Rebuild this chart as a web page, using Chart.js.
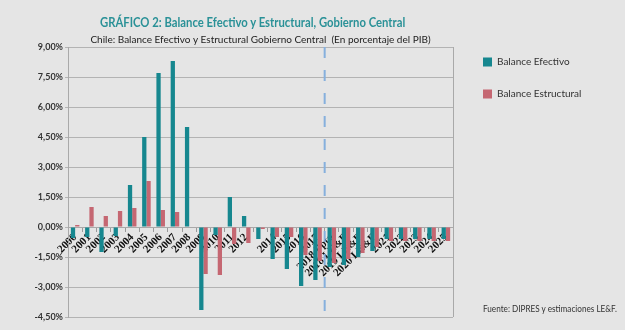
<!DOCTYPE html>
<html><head><meta charset="utf-8">
<script src="https://cdn.jsdelivr.net/npm/chart.js@4.4.1/dist/chart.umd.min.js"></script>
<style>
html,body{margin:0;padding:0;background:#e5e5e5;}
#wrap{position:relative;width:625px;height:330px;overflow:hidden;background:#e5e5e5;}
#c{position:absolute;left:0;top:0;}
#title{position:absolute;left:100px;top:13px;font-weight:bold;font-size:14px;font-family:Lato,sans-serif;color:#2a9197;white-space:nowrap;line-height:18px;transform-origin:0 50%;}
#src{position:absolute;left:483px;top:302px;font-size:10px;font-family:Lato,sans-serif;color:#333;white-space:nowrap;line-height:12px;transform-origin:0 50%;}
</style></head>
<body><div id="wrap"><canvas id="c" width="625" height="330"></canvas>
<div id="title">GRÁFICO 2: Balance Efectivo y Estructural, Gobierno Central</div>
<div id="src">Fuente: DIPRES y estimaciones LE&amp;F.</div></div>
<script>
const categories = ['2000','2001','2002','2003','2004','2005','2006','2007','2008','2009','2010','2011','2012','2013','2014','2015','2016','2017','2018 Ppto','2018 LE&F','2019 LE&F','2020 LE&F','2021','2022','2023','2024','2025'];
const tickLabels = ['2000','2001','2002','2003','2004','2005','2006','2007','2008','2009','2010','2011','2012','','2014','2015','2016','2017','2018 Ppto','2018 LE&F','2019 LE&F','2020 LE&F','2021','2022','2023','2024','2025'];
const balanceEfectivo = [-0.55,-0.5,-1.25,-0.45,2.1,4.5,7.7,8.3,5.0,-4.15,-0.4,1.5,0.55,-0.6,-1.6,-2.1,-2.95,-2.65,-2.0,-1.9,-1.5,-1.2,-0.6,-0.6,-0.6,-0.6,-0.6];
const balanceEstructural = [0.1,1.0,0.55,0.8,0.95,2.3,0.85,0.75,0,-2.35,-2.4,-0.85,-0.8,-0.1,-0.5,-0.5,-1.4,-1.7,-1.8,-1.6,-1.3,-1.0,-0.7,-0.7,-0.7,-0.7,-0.7];
const seriesNames = ['Balance Efectivo','Balance Estructural'];
const yMin = -4.5, yMax = 9, yStep = 1.5;
const projectionStart = '2018 Ppto';

// fit HTML titles to the reference widths (condensed look)
function fitWidth(id, w) { const el = document.getElementById(id); el.style.transform = 'scaleX(' + (w / el.offsetWidth) + ')'; }
fitWidth('title', 305);
fitWidth('src', 134);

const FONT = "Lato, sans-serif";
Chart.defaults.font.family = FONT;

const LEG_FONT = 10, LEG_PAD = 22, LEG_BOX = 9;
const mctx = document.createElement('canvas').getContext('2d');
mctx.font = LEG_FONT + 'px ' + FONT;
const legTextW = Math.max(...seriesNames.map(t => mctx.measureText(t).width));
const legendW = 10 + LEG_PAD + LEG_BOX + LEG_FONT / 2 + legTextW;
const padRight = Math.max(0, 625 - 461 - legendW);

const framePlugin = {
  id: 'frame',
  beforeDatasetsDraw(chart) {
    const {ctx, chartArea: a, scales} = chart;
    ctx.save();
    ctx.strokeStyle = '#a9a9a9';
    ctx.lineWidth = 1;
    ctx.beginPath();
    const xr = Math.round(a.right) + 0.5;
    ctx.moveTo(xr, a.top); ctx.lineTo(xr, a.bottom);
    ctx.stroke();
    const idx = categories.indexOf(projectionStart);
    const xd = scales.x.getPixelForValue(idx - 0.5);
    ctx.strokeStyle = '#86b0dd';
    ctx.lineWidth = 2;
    ctx.setLineDash([11, 12]);
    ctx.beginPath();
    ctx.moveTo(xd, a.top); ctx.lineTo(xd, a.bottom);
    ctx.stroke();
    ctx.restore();
  }
};

new Chart(document.getElementById('c'), {
  type: 'bar',
  data: {
    labels: categories,
    datasets: [
      { label: seriesNames[0], data: balanceEfectivo, backgroundColor: '#16878f', borderWidth: 0, categoryPercentage: 0.6, barPercentage: 1.0 },
      { label: seriesNames[1], data: balanceEstructural, backgroundColor: '#c56772', borderWidth: 0, categoryPercentage: 0.6, barPercentage: 1.0 }
    ]
  },
  options: {
    responsive: false,
    animation: false,
    devicePixelRatio: 1,
    layout: { padding: { top: 35, left: 0, right: padRight, bottom: 13 } },
    scales: {
      x: {
        position: { y: 0 },
        grid: { drawOnChartArea: false, color: '#9a9a9a', tickLength: 4, offset: true },
        border: { color: '#a9a9a9' },
        ticks: {
          autoSkip: false, minRotation: 45, maxRotation: 45, padding: 0,
          font: { family: "'Liberation Serif','DejaVu Serif',serif", weight: 'bold', size: 11 },
          color: '#111',
          callback: (v, i) => tickLabels[i]
        },
        afterFit: s => { s.height = 0; }
      },
      y: {
        min: yMin, max: yMax,
        ticks: {
          stepSize: yStep,
          callback: v => v.toFixed(2).replace('.', ',') + '%',
          font: { size: 9, weight: 'bold' },
          color: '#333',
          padding: 2
        },
        grid: { color: '#b3b3b3', tickLength: 3 },
        border: { color: '#a9a9a9' },
        afterFit: s => { s.width = 68; }
      },
      y2: {
        position: 'right',
        display: false,
        afterFit: s => { s.width = 8; }
      }
    },
    plugins: {
      legend: {
        position: 'right', fullSize: true, align: 'start',
        labels: { boxWidth: LEG_BOX, boxHeight: LEG_BOX, padding: LEG_PAD, font: { size: LEG_FONT }, color: '#333' }
      },
      subtitle: {
        display: true, fullSize: false,
        text: 'Chile: Balance Efectivo y Estructural Gobierno Central  (En porcentaje del PIB)',
        font: { size: 10, lineHeight: '10px' },
        color: '#222',
        padding: { top: 0, bottom: 2 }
      },
      title: { display: false },
      tooltip: { enabled: false }
    }
  },
  plugins: [framePlugin]
});
</script>
</body></html>
